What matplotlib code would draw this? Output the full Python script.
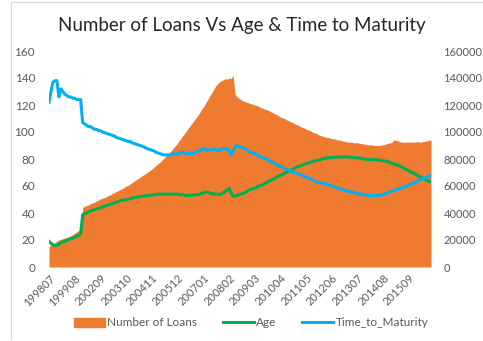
import matplotlib
matplotlib.use("Agg")
import matplotlib.pyplot as plt
from matplotlib.patches import Patch
from matplotlib.lines import Line2D

plt.rcParams['font.family'] = ['Lato', 'DejaVu Sans']

# monthly periods: 199807-199908, then 200109-201608
months = []
for y in range(1998, 2017):
    for m in range(1, 13):
        ym = y * 100 + m
        if 199807 <= ym <= 199908 or 200109 <= ym <= 201608:
            months.append(str(ym))

# number of loans (thousands, right axis)
loans_k = [
    15, 16, 17, 18, 19, 20, 20.5, 21, 21.5, 22, 22.5, 23, 24, 25, 26, 27, 28, 44, 45, 45.5,
    46, 47, 47.5, 48, 49, 49.5, 50.5, 51, 51.5, 52, 53, 53.5, 54.5, 55, 56, 56.5, 57.5, 58, 59, 60,
    60.5, 61.5, 62.5, 63.5, 64.5, 65.5, 66.5, 67.5, 68.5, 69.5, 70.5, 71.5, 72.5, 74, 75, 76.5, 77.5, 79, 80.5, 82,
    83.5, 85, 86.5, 88.5, 90, 92, 94, 96, 98, 100, 102, 104, 106, 108, 110, 112, 114, 116.5, 118.5, 121,
    123.5, 126, 128.5, 131, 133.5, 135.5, 137, 138, 138.5, 139.5, 139, 140, 139.5, 142, 128, 126, 125, 124, 123, 122.5,
    122, 121.5, 121, 120.5, 120, 119.5, 119, 118, 117.5, 117, 116.5, 116, 115, 114.5, 113.5, 113, 112, 111, 110.5, 110,
    109, 108.5, 107.5, 107, 106, 105.5, 105, 104, 103.5, 103, 102, 101.5, 101, 100, 99.5, 99, 98, 97.5, 97, 96.5,
    96, 96, 95.5, 95, 95, 94.5, 94, 94, 93.5, 93, 93, 92.5, 92.5, 92.5, 92, 92, 92, 91.5, 91.5, 91,
    91, 90.5, 90.5, 90.5, 90, 90, 90, 90, 90.5, 90.5, 91, 91.5, 92, 92, 94, 94, 93.5, 93, 92.5, 92.5,
    92.5, 92.5, 92.5, 92.5, 92.5, 92.5, 93, 92.5, 92.5, 93, 93, 93.5, 94, 94,
]
loans = [v * 1000 for v in loans_k]

age = [
    19, 17.5, 16.5, 16, 16, 17, 18, 18.5, 19, 19.5, 20.5, 21, 21.5, 22, 23, 23.5, 24.5, 38.5, 39.5, 40,
    41, 41.5, 42, 42.5, 43, 43.5, 44, 44.5, 45, 45.5, 46, 46.5, 47, 47.5, 48, 48.5, 49, 49.5, 49.5, 50,
    50.5, 50.5, 51, 51.5, 51.5, 52, 52, 52.5, 52.5, 53, 53, 53, 53.5, 53.5, 53.5, 54, 54, 54, 54, 54,
    54, 54, 54, 54, 54, 54, 53.5, 53.5, 53.5, 53, 53, 53, 53, 53.5, 53.5, 53.5, 54, 54.5, 55, 55.5,
    55.5, 55, 54.5, 54, 54, 54, 53.5, 54, 55, 56, 57, 58.5, 55, 52.5, 52.5, 53, 53.5, 54, 54.5, 55,
    56, 57, 57.5, 58, 58.5, 59, 60, 60.5, 61, 62, 62.5, 63.5, 64, 65, 65.5, 66.5, 67.5, 68, 68.5, 69.5,
    70, 71, 71.5, 72.5, 73, 74, 74.5, 75, 75.5, 76, 76.5, 77, 77.5, 78, 78.5, 79, 79, 79.5, 80, 80.5,
    80.5, 81, 81, 81, 81.5, 81.5, 81.5, 81.5, 81.5, 81.5, 81.5, 81.5, 81.5, 81, 81, 81, 81, 80.5, 80.5, 80,
    80, 79.5, 79.5, 79.5, 79.5, 79.5, 79.5, 79, 79, 78.5, 78.5, 78, 77.5, 77, 76.5, 76, 75.5, 75, 74, 73.5,
    72.5, 72, 71, 70.5, 69.5, 69, 68, 67, 66.5, 65.5, 65, 64, 63.5, 63,
]

time_to_maturity = [
    122, 130, 137, 138, 138, 126, 132, 130, 128, 127, 126, 126, 125, 125, 124, 124, 124, 107, 106, 105,
    104, 104, 103, 102, 102, 101, 101, 100, 99.5, 99, 98.5, 98, 97.5, 97, 96, 95.5, 95, 94.5, 94, 93.5,
    93, 93, 92, 91.5, 91, 90.5, 90, 89.5, 89, 88, 87.5, 87, 86.5, 86, 85, 84.5, 84, 83.5, 83, 83,
    83, 83, 83.5, 84, 83.5, 84, 84.5, 85, 85, 84, 84.5, 84, 84, 84, 85, 86, 86, 87, 88, 87,
    86.5, 86.5, 87, 87, 87, 86.5, 86.5, 87, 88, 87.5, 87, 86.5, 83, 86, 89, 90, 89, 88.5, 88, 88,
    87, 85, 85, 84.5, 84.5, 83, 82, 81.5, 81, 80.5, 80, 79, 78, 77.5, 76.5, 76, 75, 74.5, 74, 73,
    72.5, 72, 71, 70.5, 70, 69.5, 69, 68.5, 68, 67, 66.5, 66, 65.5, 65, 64, 63, 62.5, 62.5, 62, 62,
    61.5, 61, 60.5, 60, 59.5, 59, 58, 58, 57.5, 57, 56.5, 56, 56, 55.5, 55, 55, 54.5, 54, 54, 53.5,
    53.5, 53, 53, 53, 53, 53, 53, 53, 53.5, 54, 54.5, 55, 55.5, 56, 56.5, 57, 57.5, 58, 58.5, 59,
    59.5, 60, 61, 61.5, 62, 62.5, 63.5, 64.5, 65, 65.5, 66, 66.5, 67.5, 68,
]

orange = '#EE7B30'
green = '#00B050'
blue = '#00B0F0'
grey = '#595959'

fig = plt.figure(figsize=(4.83, 3.41), dpi=100)
ax = fig.add_axes([49 / 483, 1 - 267 / 341, (431 - 49) / 483, (267 - 51) / 341])
x = list(range(len(months)))

# area on the base axes
ax.fill_between(x, 0, loans, color=orange, linewidth=0)
ax.set_ylim(0, 160000)
ax.set_yticks(range(0, 160001, 20000))
ax.set_xlim(0, len(months) - 1)

# lines on the twin axes (drawn on top of the area)
ax2 = ax.twinx()
ax2.plot(x, age, color=green, linewidth=2.2)
ax2.plot(x, time_to_maturity, color=blue, linewidth=2.2)
ax2.set_ylim(0, 160)
ax2.set_yticks(range(0, 161, 20))

# swap sides: loans scale on the right, months scale on the left
ax.yaxis.tick_right()
ax2.yaxis.tick_left()

ax.set_xticks(x[::13])
ax.set_xticklabels(months[::13], rotation=45, ha='right', rotation_mode='anchor')

for a in (ax, ax2):
    for s in a.spines.values():
        s.set_visible(False)
    a.tick_params(length=0, labelsize=8.5, labelcolor=grey)
ax.tick_params(axis='x', pad=4, labelsize=8)
ax.tick_params(axis='y', pad=9, labelsize=8)
ax2.tick_params(axis='y', pad=10)

fig.text(0.5, 1 - 26 / 341, 'Number of Loans Vs Age & Time to Maturity',
         ha='center', va='center', fontsize=13.5, color='#262626')

handles = [Patch(color=orange), Line2D([], [], color=green, linewidth=2.2),
           Line2D([], [], color=blue, linewidth=2.2)]
fig.legend(handles, ['Number of Loans', 'Age', 'Time_to_Maturity'], loc='center',
           bbox_to_anchor=(0.52, 1 - 323 / 341), ncol=3, frameon=False, fontsize=8.5,
           labelcolor=grey, handlelength=2.6, handletextpad=0.2, columnspacing=2.2)

# faint chart border
fig.add_artist(Line2D([11 / 483, 11 / 483], [0.005, 1 - 2 / 341], color='#d9d9d9', linewidth=0.8))
fig.add_artist(Line2D([11 / 483, 1], [1 - 2 / 341, 1 - 2 / 341], color='#d9d9d9', linewidth=0.8))

fig.savefig('out.png', dpi=100)
